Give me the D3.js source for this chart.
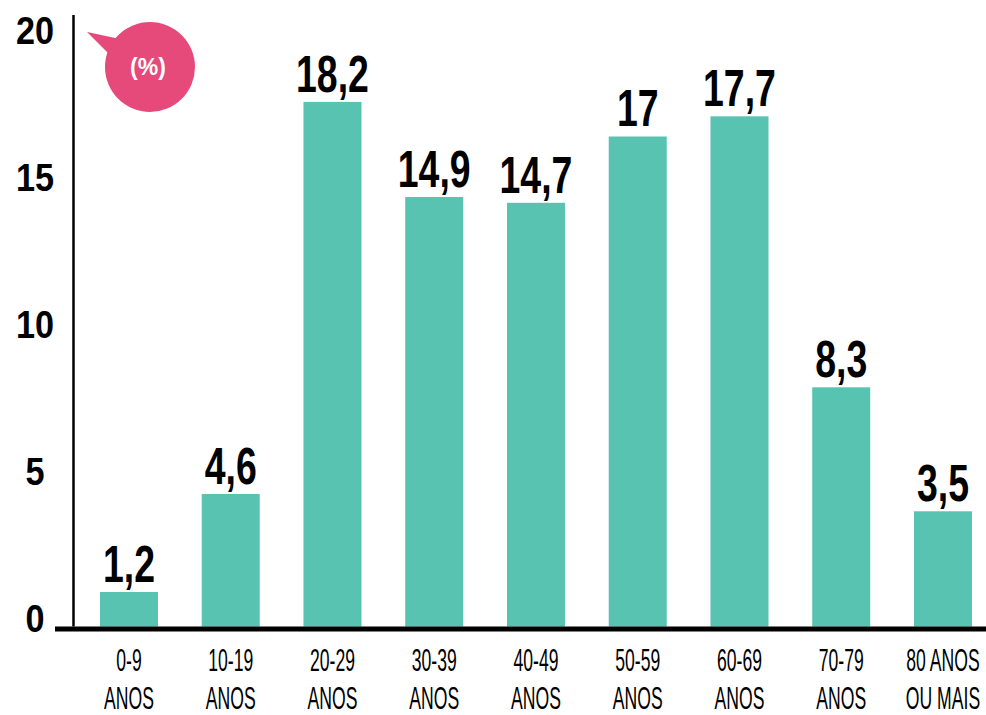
<!DOCTYPE html>
<html>
<head>
<meta charset="utf-8">
<script src="https://cdn.jsdelivr.net/npm/d3@7"></script>
<style>
  html, body { margin: 0; padding: 0; background: #fff; }
  svg { display: block; font-family: "Liberation Sans", Arial, sans-serif; }
</style>
</head>
<body>
<div id="chart"></div>
<script>
// age groups (two text lines each)
const categories = ["0-9|ANOS", "10-19|ANOS", "20-29|ANOS", "30-39|ANOS", "40-49|ANOS",
    "50-59|ANOS", "60-69|ANOS", "70-79|ANOS", "80 ANOS|OU MAIS"];
// bar heights as drawn in the picture (last bar is drawn a bit taller than its label)
const values = [1.2, 4.6, 18.2, 14.9, 14.7, 17, 17.7, 8.3, 4.0];
const valueLabels = ["1,2", "4,6", "18,2", "14,9", "14,7", "17", "17,7", "8,3", "3,5"];
const yTicks = [0, 5, 10, 15, 20];
const unitLabel = "(%)";

const width = 986;
const height = 715;

const svg = d3.select("#chart")
    .append("svg")
    .attr("width", width)
    .attr("height", height);

const x = d3.scaleBand()
    .domain(categories)
    .range([78.1, 993.85])
    .paddingInner(0.43)
    .paddingOuter(0.215);

const y = d3.scaleLinear().domain([0, 20]).range([626.6, 50]);
// tick labels sit a bit higher than the bar scale in the original
const yLabel = d3.scaleLinear().domain([0, 20]).range([632, 44]);

// bars
svg.selectAll("rect.bar")
    .data(values)
    .enter()
    .append("rect")
    .attr("class", "bar")
    .attr("x", (d, i) => x(categories[i]))
    .attr("y", (d) => y(d))
    .attr("width", x.bandwidth())
    .attr("height", (d) => y(0) - y(d))
    .attr("fill", "#59c3b2");

// value labels
svg.selectAll("g.val")
    .data(values)
    .enter()
    .append("g")
    .attr("class", "val")
    .attr("transform", (d, i) => `translate(${x(categories[i]) + x.bandwidth() / 2},${y(d) - 10}) scale(0.72,1)`)
    .append("text")
    .attr("text-anchor", "middle")
    .attr("font-size", 52)
    .attr("font-weight", "bold")
    .attr("fill", "#000")
    .text((d, i) => valueLabels[i]);

// y axis line
svg.append("line")
    .attr("x1", 73.5).attr("x2", 73.5)
    .attr("y1", 15).attr("y2", y(0))
    .attr("stroke", "#000")
    .attr("stroke-width", 2.5);

// y tick labels
svg.selectAll("g.ytick")
    .data(yTicks)
    .enter()
    .append("g")
    .attr("class", "ytick")
    .attr("transform", (d) => `translate(35,${yLabel(d)}) scale(0.9,1)`)
    .append("text")
    .attr("text-anchor", "middle")
    .attr("font-size", 38)
    .attr("font-weight", "bold")
    .attr("fill", "#000")
    .text((d) => d);

// x axis baseline
svg.append("line")
    .attr("x1", 55).attr("x2", width)
    .attr("y1", y(0) + 2.5).attr("y2", y(0) + 2.5)
    .attr("stroke", "#000")
    .attr("stroke-width", 5);

// x labels
const xl = svg.selectAll("g.xlab")
    .data(categories)
    .enter()
    .append("g")
    .attr("class", "xlab")
    .attr("transform", (d) => `translate(${x(d) + x.bandwidth() / 2},0) scale(0.55,1)`);

xl.selectAll("text")
    .data((d) => d.split("|"))
    .enter()
    .append("text")
    .attr("text-anchor", "middle")
    .attr("y", (d, i) => 671 + i * 38)
    .attr("font-size", 32)
    .attr("fill", "#000")
    .text((d) => d);

// unit bubble
const bubble = svg.append("g").attr("transform", "translate(150,67)");
bubble.append("path")
    .attr("d", "M-63,-35 L-30,-28 L-38,-10 Z")
    .attr("fill", "#e64a7b");
bubble.append("circle")
    .attr("r", 45)
    .attr("fill", "#e64a7b");
bubble.append("text")
    .attr("x", -2)
    .attr("y", 8)
    .attr("text-anchor", "middle")
    .attr("font-size", 23)
    .attr("font-weight", "bold")
    .attr("fill", "#fff")
    .text(unitLabel);
</script>
</body>
</html>
